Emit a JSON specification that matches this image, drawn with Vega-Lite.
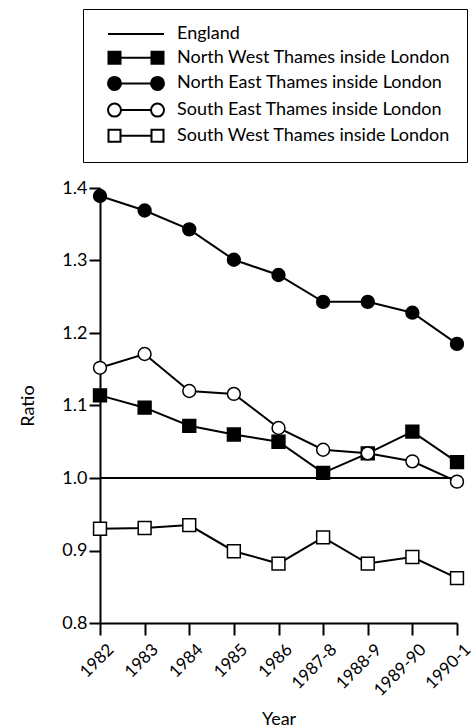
{
  "$schema": "https://vega.github.io/schema/vega-lite/v6.json",
  "autosize": {"type": "none"},
  "padding": {"left": 100, "top": 188, "right": 18, "bottom": 105},
  "width": 357,
  "height": 435,
  "background": "white",
  "data": {"values": [
    {"series": "England", "year": "1982", "ratio": 1.0},
    {"series": "England", "year": "1983", "ratio": 1.0},
    {"series": "England", "year": "1984", "ratio": 1.0},
    {"series": "England", "year": "1985", "ratio": 1.0},
    {"series": "England", "year": "1986", "ratio": 1.0},
    {"series": "England", "year": "1987-8", "ratio": 1.0},
    {"series": "England", "year": "1988-9", "ratio": 1.0},
    {"series": "England", "year": "1989-90", "ratio": 1.0},
    {"series": "England", "year": "1990-1", "ratio": 1.0},
    {"series": "North West Thames inside London", "year": "1982", "ratio": 1.114},
    {"series": "North West Thames inside London", "year": "1983", "ratio": 1.097},
    {"series": "North West Thames inside London", "year": "1984", "ratio": 1.072},
    {"series": "North West Thames inside London", "year": "1985", "ratio": 1.060},
    {"series": "North West Thames inside London", "year": "1986", "ratio": 1.050},
    {"series": "North West Thames inside London", "year": "1987-8", "ratio": 1.007},
    {"series": "North West Thames inside London", "year": "1988-9", "ratio": 1.034},
    {"series": "North West Thames inside London", "year": "1989-90", "ratio": 1.064},
    {"series": "North West Thames inside London", "year": "1990-1", "ratio": 1.022},
    {"series": "North East Thames inside London", "year": "1982", "ratio": 1.389},
    {"series": "North East Thames inside London", "year": "1983", "ratio": 1.369},
    {"series": "North East Thames inside London", "year": "1984", "ratio": 1.343},
    {"series": "North East Thames inside London", "year": "1985", "ratio": 1.301},
    {"series": "North East Thames inside London", "year": "1986", "ratio": 1.280},
    {"series": "North East Thames inside London", "year": "1987-8", "ratio": 1.243},
    {"series": "North East Thames inside London", "year": "1988-9", "ratio": 1.243},
    {"series": "North East Thames inside London", "year": "1989-90", "ratio": 1.228},
    {"series": "North East Thames inside London", "year": "1990-1", "ratio": 1.185},
    {"series": "South East Thames inside London", "year": "1982", "ratio": 1.152},
    {"series": "South East Thames inside London", "year": "1983", "ratio": 1.171},
    {"series": "South East Thames inside London", "year": "1984", "ratio": 1.120},
    {"series": "South East Thames inside London", "year": "1985", "ratio": 1.116},
    {"series": "South East Thames inside London", "year": "1986", "ratio": 1.069},
    {"series": "South East Thames inside London", "year": "1987-8", "ratio": 1.039},
    {"series": "South East Thames inside London", "year": "1988-9", "ratio": 1.034},
    {"series": "South East Thames inside London", "year": "1989-90", "ratio": 1.023},
    {"series": "South East Thames inside London", "year": "1990-1", "ratio": 0.995},
    {"series": "South West Thames inside London", "year": "1982", "ratio": 0.930},
    {"series": "South West Thames inside London", "year": "1983", "ratio": 0.931},
    {"series": "South West Thames inside London", "year": "1984", "ratio": 0.935},
    {"series": "South West Thames inside London", "year": "1985", "ratio": 0.899},
    {"series": "South West Thames inside London", "year": "1986", "ratio": 0.882},
    {"series": "South West Thames inside London", "year": "1987-8", "ratio": 0.918},
    {"series": "South West Thames inside London", "year": "1988-9", "ratio": 0.882},
    {"series": "South West Thames inside London", "year": "1989-90", "ratio": 0.891},
    {"series": "South West Thames inside London", "year": "1990-1", "ratio": 0.862}
  ]},
  "encoding": {
    "x": {
      "field": "year", "type": "ordinal",
      "scale": {"type": "point", "padding": 0},
      "sort": ["1982", "1983", "1984", "1985", "1986", "1987-8", "1988-9", "1989-90", "1990-1"],
      "axis": {"title": "Year", "labelAngle": -45, "labelFontSize": 17, "tickSize": 12, "labelPadding": 6, "labelOffset": 5, "titlePadding": 12}
    },
    "y": {
      "field": "ratio", "type": "quantitative",
      "scale": {"domain": [0.8, 1.4], "nice": false, "zero": false},
      "axis": {"title": "Ratio", "values": [0.8, 0.9, 1.0, 1.1, 1.2, 1.3, 1.4], "format": ".1f", "labelFontSize": 18, "tickSize": 11, "labelPadding": 2, "titlePadding": 24}
    }
  },
  "layer": [
    {
      "transform": [{"filter": "datum.series === 'England'"}],
      "mark": {"type": "line", "color": "black", "strokeWidth": 1.8},
      "encoding": {}
    },
    {
      "transform": [{"filter": "datum.series !== 'England'"}],
      "mark": {"type": "line", "color": "black", "strokeWidth": 2},
      "encoding": {"detail": {"field": "series"}}
    },
    {
      "transform": [{"filter": "datum.series !== 'England'"}],
      "mark": {"type": "point", "filled": true, "stroke": "black", "strokeWidth": 1.5, "opacity": 1, "size": 165},
      "encoding": {
        "shape": {
          "field": "series", "type": "nominal",
          "scale": {
            "domain": ["North West Thames inside London", "North East Thames inside London", "South East Thames inside London", "South West Thames inside London"],
            "range": ["square", "circle", "circle", "square"]
          },
          "legend": null
        },
        "fill": {
          "field": "series", "type": "nominal",
          "scale": {
            "domain": ["North West Thames inside London", "North East Thames inside London", "South East Thames inside London", "South West Thames inside London"],
            "range": ["black", "black", "white", "white"]
          },
          "legend": null
        }
      }
    },
    {
      "mark": {"type": "point", "filled": true, "strokeWidth": 2, "opacity": 0, "size": 144},
      "encoding": {
        "shape": {
          "field": "series", "type": "nominal",
          "scale": {
            "domain": ["England", "North West Thames inside London", "North East Thames inside London", "South East Thames inside London", "South West Thames inside London"],
            "range": [
              "M-4.667,0L4.667,0",
              "M-4.583,-1L-2.583,-1L-2.583,1L-4.583,1Z M2.583,-1L4.583,-1L4.583,1L2.583,1Z M-2.583,0L2.583,0",
              "M-4.667,0A1.083,1.083,0,1,1,-2.5,0A1.083,1.083,0,1,1,-4.667,0Z M2.5,0A1.083,1.083,0,1,1,4.667,0A1.083,1.083,0,1,1,2.5,0Z M-2.5,0L2.5,0",
              "M-4.667,0A1.083,1.083,0,1,1,-2.5,0A1.083,1.083,0,1,1,-4.667,0Z M2.5,0A1.083,1.083,0,1,1,4.667,0A1.083,1.083,0,1,1,2.5,0Z M-2.5,0L2.5,0",
              "M-4.583,-1L-2.583,-1L-2.583,1L-4.583,1Z M2.583,-1L4.583,-1L4.583,1L2.583,1Z M-2.583,0L2.583,0"
            ]
          },
          "legend": {
            "title": null, "orient": "none", "legendX": -17, "legendY": -179,
            "padding": 16, "strokeColor": "black", "fillColor": "white",
            "symbolOffset": 28, "labelOffset": 32, "symbolSize": 144, "symbolOpacity": 1,
            "symbolStrokeWidth": 2, "rowPadding": 4.7,
            "labelFont": "Lato", "labelFontSize": 18, "labelColor": "black", "labelLimit": 0
          }
        },
        "fill": {
          "field": "series", "type": "nominal",
          "scale": {
            "domain": ["England", "North West Thames inside London", "North East Thames inside London", "South East Thames inside London", "South West Thames inside London"],
            "range": ["black", "black", "black", "white", "white"]
          },
          "legend": {
            "title": null, "orient": "none", "legendX": -17, "legendY": -179,
            "padding": 16, "strokeColor": "black", "fillColor": "white",
            "symbolOffset": 28, "labelOffset": 32, "symbolSize": 144, "symbolOpacity": 1,
            "symbolStrokeWidth": 2, "rowPadding": 4.7,
            "labelFont": "Lato", "labelFontSize": 18, "labelColor": "black", "labelLimit": 0
          }
        },
        "stroke": {
          "field": "series", "type": "nominal",
          "scale": {
            "domain": ["England", "North West Thames inside London", "North East Thames inside London", "South East Thames inside London", "South West Thames inside London"],
            "range": ["black", "black", "black", "black", "black"]
          },
          "legend": {
            "title": null, "orient": "none", "legendX": -17, "legendY": -179,
            "padding": 16, "strokeColor": "black", "fillColor": "white",
            "symbolOffset": 28, "labelOffset": 32, "symbolSize": 144, "symbolOpacity": 1,
            "symbolStrokeWidth": 2, "rowPadding": 4.7,
            "labelFont": "Lato", "labelFontSize": 18, "labelColor": "black", "labelLimit": 0
          }
        }
      }
    }
  ],
  "resolve": {"scale": {"shape": "independent", "fill": "independent", "stroke": "independent"}},
  "config": {
    "view": {"stroke": null},
    "axis": {
      "grid": false,
      "domainColor": "black",
      "domainWidth": 2,
      "tickColor": "black",
      "tickWidth": 2,
      "labelFont": "Lato",
      "labelColor": "black",
      "titleFont": "Lato",
      "titleFontSize": 18,
      "titleFontWeight": "normal",
      "titleColor": "black"
    }
  }
}
